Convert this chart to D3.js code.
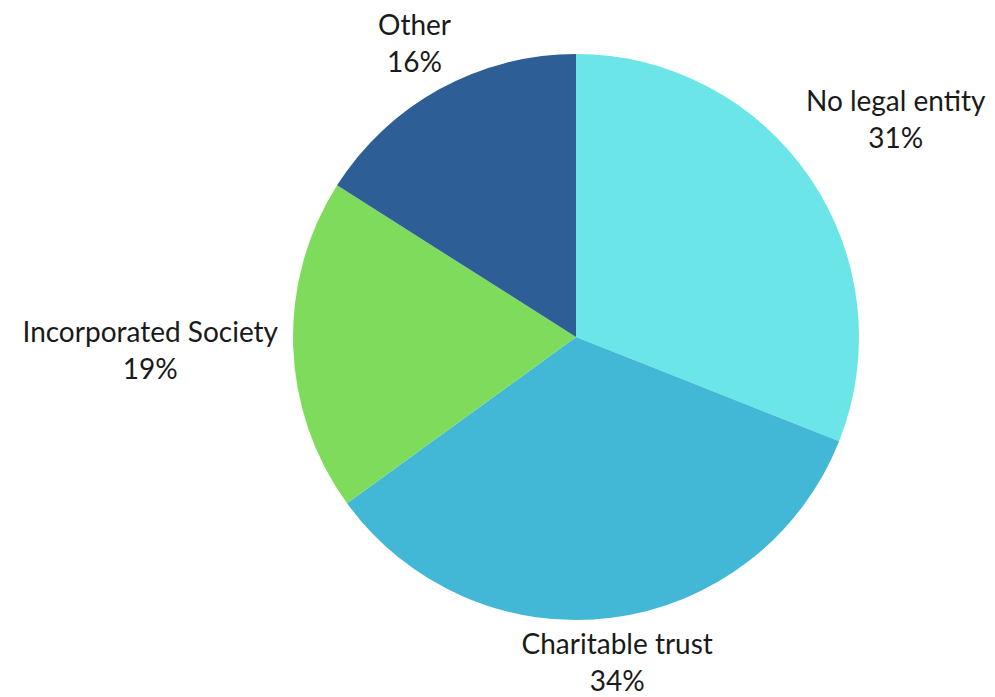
<!DOCTYPE html>
<html>
<head>
<meta charset="utf-8">
<script src="https://cdn.jsdelivr.net/npm/d3@7"></script>
<style>
  body { margin: 0; background: #fff; }
  text { font-family: Lato, "Open Sans", sans-serif; fill: #1a1a1a; }
</style>
</head>
<body>
<svg id="chart" width="995" height="697"></svg>
<script>
// chart values
var categories = ["No legal entity", "Charitable trust", "Incorporated Society", "Other"];
var shares = [31, 34, 19, 16];
var colors = ["#6be5e8", "#43b8d6", "#7fdb5b", "#2d5f96"];

var data = categories.map(function (c, i) {
    return { name: c, value: shares[i], color: colors[i] };
});

var svg = d3.select("#chart");

// pie geometry
var cx = 576, cy = 337, radius = 283;

var g = svg.append("g")
    .attr("transform", "translate(" + cx + "," + cy + ")");

var pie = d3.pie()
    .sort(null)
    .value(function (d) { return d.value; });

var arc = d3.arc()
    .innerRadius(0)
    .outerRadius(radius);

var arcs = pie(data);

g.selectAll("path.slice")
    .data(arcs)
    .enter()
    .append("path")
    .attr("class", "slice")
    .attr("d", arc)
    .style("fill", function (d) { return d.data.color; });

// labels outside, pushed out until the text box clears the circle
var labels = g.selectAll("g.label")
    .data(arcs)
    .enter()
    .append("g")
    .attr("class", "label");

labels.append("text")
    .attr("text-anchor", "middle")
    .attr("y", -18.5)
    .attr("dy", "0.35em")
    .style("font-size", "28px")
    .text(function (d) { return d.data.name; });

labels.append("text")
    .attr("text-anchor", "middle")
    .attr("y", 18.5)
    .attr("dy", "0.35em")
    .style("font-size", "28px")
    .text(function (d) { return d.data.value + "%"; });

labels.attr("transform", function (d) {
    var box = this.getBBox();
    var a = (d.startAngle + d.endAngle) / 2;
    var s = Math.abs(Math.sin(a)), c = Math.abs(Math.cos(a));
    var gap = 2 + 12 * s - 5 * c;
    var dist = radius + gap + s * box.width / 2 + c * box.height / 2;
    return "translate(" + (Math.sin(a) * dist) + "," + (-Math.cos(a) * dist) + ")";
});
</script>
</body>
</html>
